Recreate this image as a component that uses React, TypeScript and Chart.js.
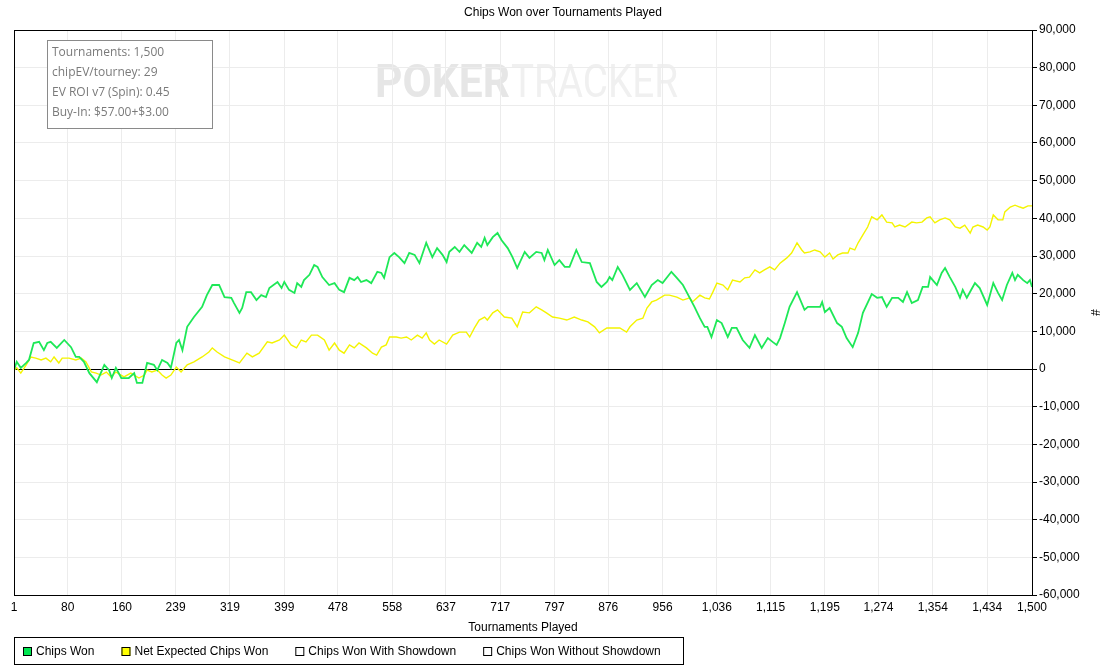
import React, { useEffect, useRef } from 'react';
import { Chart, registerables } from 'chart.js';

Chart.register(...registerables);

const chartTitle = 'Chips Won over Tournaments Played';
const xAxisTitle = 'Tournaments Played';
const yAxisTitle = '#';
const watermarkBold = 'POKER';
const watermarkLight = 'TRACKER';

const infoLines = [
  'Tournaments: 1,500',
  'chipEV/tourney: 29',
  'EV ROI v7 (Spin): 0.45',
  'Buy-In: $57.00+$3.00',
];

const seriesLabels = [
  'Chips Won',
  'Net Expected Chips Won',
  'Chips Won With Showdown',
  'Chips Won Without Showdown',
];
const seriesColors = ['#1ee857', '#f4f400', '#ffffff', '#ffffff'];
const legendFill = ['#00e650', '#ffff00', '#ffffff', '#ffffff'];

const xTicks = [1, 80, 160, 239, 319, 399, 478, 558, 637, 717, 797, 876, 956, 1036, 1115, 1195, 1274, 1354, 1434, 1500];
const yMin = -60000;
const yMax = 90000;
const yStep = 10000;

const chipsWonT = [
  1, 5, 11, 19, 23, 30, 38, 45, 50, 55,
  64, 75, 85, 92, 97, 104, 112, 123, 134, 141,
  145, 151, 159, 170, 178, 182, 190, 197, 207, 212,
  219, 227, 232, 240, 244, 249, 256, 266, 278, 285,
  293, 303, 311, 321, 325, 333, 337, 343, 350, 358,
  365, 372, 377, 389, 395, 399, 406, 414, 418, 424,
  428, 436, 443, 448, 455, 465, 473, 480, 487, 495,
  502, 507, 512, 520, 527, 536, 542, 546, 554, 561,
  568, 576, 583, 591, 598, 608, 617, 624, 632, 638,
  642, 650, 657, 664, 675, 683, 689, 694, 698, 706,
  713, 719, 728, 735, 742, 753, 760, 770, 778, 782,
  787, 797, 804, 812, 819, 829, 837, 849, 859, 866,
  874, 878, 882, 890, 897, 908, 918, 930, 940, 949,
  956, 969, 977, 986, 996, 1003, 1011, 1018, 1022, 1028,
  1036, 1043, 1052, 1058, 1065, 1074, 1084, 1092, 1102, 1111,
  1118, 1124, 1129, 1136, 1143, 1154, 1165, 1170, 1188, 1191,
  1195, 1202, 1213, 1220, 1227, 1236, 1244, 1251, 1264, 1272,
  1279, 1286, 1294, 1303, 1310, 1316, 1323, 1332, 1339, 1347,
  1350, 1360, 1367, 1372, 1379, 1387, 1394, 1398, 1404, 1416,
  1423, 1434, 1443, 1450, 1456, 1463, 1471, 1475, 1479, 1487,
  1493, 1497, 1500,
];
const chipsWonV = [
  -300, 1900, 300, 1600, 2400, 6900, 7200, 5000, 6900, 7200,
  5600, 7700, 5800, 3200, 3200, 1900, -1100, -3500, 1100, -300,
  -2400, 300, -2400, -2400, -1100, -3700, -3700, 1600, 1100, -300,
  2400, 1600, 300, 6900, 7700, 5000, 11200, 13800, 16500, 19600,
  22300, 22300, 19100, 18900, 17500, 14900, 16200, 20400, 20400, 18300,
  19600, 19100, 21500, 23100, 21500, 23100, 21000, 20200, 22800, 21800,
  23600, 25000, 27600, 27100, 24400, 22300, 22800, 21000, 20400, 24200,
  23600, 24400, 23100, 23600, 22800, 25800, 25500, 24200, 29700, 30800,
  29700, 28100, 30800, 30300, 28100, 33500, 29700, 32100, 30300, 28400,
  31100, 32400, 31100, 32900, 30800, 33500, 32400, 34800, 32900, 35000,
  36100, 34200, 32100, 29700, 26800, 31100, 29500, 31100, 30800, 28900,
  31600, 27600, 28900, 27100, 27100, 31600, 28400, 28100, 23100, 21800,
  23100, 24400, 23600, 27100, 25000, 21000, 22800, 19100, 22300, 23600,
  22800, 25800, 24200, 22300, 18900, 16500, 13500, 11200, 11200, 8500,
  13000, 12200, 8500, 10900, 10900, 7700, 5600, 9000, 5600, 8200,
  7200, 6400, 8200, 12200, 16500, 20400, 15700, 16500, 16500, 17800,
  15100, 16200, 12200, 11200, 8200, 5800, 9600, 14900, 19900, 18900,
  19100, 16500, 18900, 18900, 17800, 20400, 17500, 18300, 21800, 21800,
  24400, 22300, 25500, 26800, 24400, 21800, 18900, 21000, 18900, 22800,
  21500, 17000, 22800, 20200, 18300, 22300, 25500, 23600, 25000, 23600,
  22800, 23600, 21800,
];

const netEvT = [
  1, 5, 11, 19, 26, 33, 41, 48, 55, 60,
  67, 72, 82, 92, 100, 107, 115, 122, 129, 137,
  144, 151, 163, 173, 185, 193, 197, 204, 212, 219,
  225, 232, 240, 247, 256, 266, 278, 288, 293, 300,
  311, 322, 333, 344, 352, 362, 374, 381, 392, 399,
  409, 417, 424, 431, 439, 448, 458, 465, 473, 480,
  487, 495, 502, 509, 520, 529, 535, 542, 549, 554,
  564, 571, 579, 586, 595, 602, 608, 613, 620, 627,
  638, 647, 657, 667, 672, 679, 686, 694, 698, 706,
  713, 723, 734, 742, 750, 760, 770, 778, 785, 794,
  804, 815, 826, 837, 846, 856, 863, 874, 882, 893,
  903, 908, 918, 927, 933, 940, 947, 959, 966, 977,
  986, 996, 1000, 1011, 1018, 1025, 1030, 1036, 1045, 1052,
  1059, 1070, 1077, 1084, 1092, 1099, 1106, 1114, 1121, 1129,
  1139, 1146, 1154, 1161, 1165, 1173, 1180, 1188, 1195, 1202,
  1207, 1214, 1221, 1229, 1232, 1239, 1244, 1251, 1258, 1264,
  1272, 1279, 1286, 1294, 1298, 1305, 1313, 1323, 1330, 1338,
  1345, 1350, 1357, 1364, 1372, 1379, 1387, 1394, 1401, 1409,
  1413, 1420, 1428, 1434, 1438, 1443, 1450, 1457, 1460, 1468,
  1475, 1482, 1487, 1494, 1500,
];
const netEvV = [
  -300, 300, -1100, 1100, 3200, 2900, 2400, 2900, 1900, 3200,
  1600, 2900, 2900, 2400, 2900, 1900, -800, -1100, -1600, -800,
  -2100, -800, -2100, -1100, -2400, -1600, -300, -800, -300, -1600,
  -2400, -1600, 500, -800, 1100, 1900, 3200, 4500, 5600, 4500,
  3200, 2400, 1600, 4200, 3200, 4200, 7200, 6900, 7700, 9000,
  6400, 5600, 7700, 7200, 9000, 9000, 7700, 5000, 6900, 5000,
  4200, 6400, 5600, 6900, 5600, 4200, 3700, 5800, 6400, 8500,
  8500, 8200, 8500, 7700, 9000, 8200, 9600, 7700, 6600, 7700,
  6600, 9000, 9800, 9800, 8500, 10900, 13000, 13800, 13000, 14900,
  15700, 13800, 13500, 11200, 15100, 14900, 16500, 15700, 14900, 13800,
  13500, 13000, 13800, 13000, 12500, 11200, 9600, 10900, 10900, 10900,
  9800, 11200, 13000, 13500, 16200, 17800, 18300, 19600, 19600, 19100,
  18300, 18900, 17800, 19600, 18900, 18600, 20400, 22800, 22300, 21000,
  23600, 23100, 24200, 24400, 26300, 25500, 26300, 27100, 26300, 28100,
  29500, 30800, 33500, 31600, 30800, 31100, 31600, 31100, 29700, 30800,
  29200, 30300, 30800, 30800, 32100, 31600, 33500, 35600, 37700, 40400,
  39600, 40900, 39000, 38800, 37700, 38200, 37700, 39000, 38800, 39000,
  40100, 40400, 38800, 39600, 40100, 39600, 37700, 37400, 38200, 36100,
  37700, 38200, 37700, 36900, 37700, 40900, 39600, 39600, 41700, 43000,
  43500, 43000, 42700, 43300, 43300,
];

const FONT = '"Liberation Sans", Arial, sans-serif';
const INFO_FONT = '"Open Sans", "Noto Sans", sans-serif';

const fmt = (v: number) => Number(v).toLocaleString('en-US');

const decorPlugin = {
  id: 'decor',
  beforeDraw(chart: any) {
    const { ctx, width, height } = chart;
    ctx.save();
    ctx.fillStyle = '#ffffff';
    ctx.fillRect(0, 0, width, height);
    // watermark
    ctx.textBaseline = 'alphabetic';
    ctx.textAlign = 'left';
    ctx.font = `bold 46px Roboto, "Open Sans", sans-serif`;
    const wb = ctx.measureText(watermarkBold).width;
    ctx.save();
    ctx.translate(375, 97);
    ctx.scale(135 / wb, 1);
    ctx.fillStyle = '#e6e6e6';
    ctx.fillText(watermarkBold, 0, 0);
    ctx.restore();
    ctx.font = `46px Roboto, "Open Sans", sans-serif`;
    const wl = ctx.measureText(watermarkLight).width;
    ctx.save();
    ctx.translate(511, 97);
    ctx.scale(167 / wl, 1);
    ctx.fillStyle = '#f0f0f0';
    ctx.fillText(watermarkLight, 0, 0);
    ctx.restore();
    ctx.restore();
  },
  beforeDatasetsDraw(chart: any) {
    const { ctx } = chart;
    ctx.save();
    // info box
    ctx.fillStyle = '#ffffff';
    ctx.fillRect(47, 40, 166, 89);
    ctx.strokeStyle = '#8a8a8a';
    ctx.lineWidth = 1;
    ctx.strokeRect(47.5, 40.5, 165, 88);
    ctx.fillStyle = '#7a7a7a';
    ctx.font = `12px ${INFO_FONT}`;
    ctx.textBaseline = 'middle';
    ctx.textAlign = 'left';
    infoLines.forEach((line, i) => {
      ctx.fillText(line, 52, 53 + i * 20);
    });
    ctx.restore();
  },
  afterDraw(chart: any) {
    const { ctx, chartArea } = chart;
    ctx.save();
    // chart area border
    ctx.strokeStyle = '#000000';
    ctx.lineWidth = 1;
    ctx.strokeRect(
      Math.round(chartArea.left) + 0.5,
      Math.round(chartArea.top) + 0.5,
      Math.round(chartArea.right - chartArea.left),
      Math.round(chartArea.bottom - chartArea.top)
    );
    // title
    ctx.fillStyle = '#000000';
    ctx.font = `12px ${FONT}`;
    ctx.textAlign = 'center';
    ctx.textBaseline = 'middle';
    ctx.fillText(chartTitle, 563, 13);
    // legend
    ctx.textAlign = 'left';
    ctx.strokeRect(14.5, 637.5, 669, 27);
    let x = 23;
    chart.data.datasets.forEach((ds: any, i: number) => {
      ctx.fillStyle = legendFill[i];
      ctx.fillRect(x, 647, 9, 9);
      ctx.strokeStyle = '#000000';
      ctx.strokeRect(x + 0.5, 647.5, 8, 8);
      ctx.fillStyle = '#000000';
      ctx.fillText(ds.label, x + 13, 652);
      x += 13 + ctx.measureText(ds.label).width + 27;
    });
    ctx.restore();
  },
};

export default function App() {
  const canvasRef = useRef<HTMLCanvasElement | null>(null);

  useEffect(() => {
    document.body.style.margin = '0';
    const canvas = canvasRef.current;
    if (!canvas) return;
    const chart = new Chart(canvas, {
      type: 'line',
      data: {
        datasets: [
          {
            label: seriesLabels[0],
            data: chipsWonT.map((t, i) => ({ x: t, y: chipsWonV[i] })),
            borderColor: seriesColors[0],
            backgroundColor: seriesColors[0],
            borderWidth: 1.8,
            pointRadius: 0,
            tension: 0,
          },
          {
            label: seriesLabels[1],
            data: netEvT.map((t, i) => ({ x: t, y: netEvV[i] })),
            borderColor: seriesColors[1],
            backgroundColor: seriesColors[1],
            borderWidth: 1.4,
            pointRadius: 0,
            tension: 0,
          },
          {
            label: seriesLabels[2],
            data: [],
            borderColor: seriesColors[2],
            backgroundColor: seriesColors[2],
            pointRadius: 0,
          },
          {
            label: seriesLabels[3],
            data: [],
            borderColor: seriesColors[3],
            backgroundColor: seriesColors[3],
            pointRadius: 0,
          },
        ],
      },
      options: {
        responsive: false,
        animation: false,
        devicePixelRatio: 1,
        layout: { padding: { left: 14, top: 30, right: 0, bottom: 33 } },
        plugins: {
          legend: { display: false },
          title: { display: false },
          tooltip: { enabled: false },
        },
        scales: {
          x: {
            type: 'linear',
            min: 1,
            max: 1500,
            afterBuildTicks: (s: any) => {
              s.ticks = xTicks.map((v) => ({ value: v }));
            },
            afterFit: (s: any) => {
              s.height = 40;
            },
            ticks: {
              autoSkip: false,
              maxRotation: 0,
              minRotation: 0,
              padding: 5,
              color: '#000000',
              font: { family: FONT, size: 12 },
              callback: (v: any) => fmt(v),
            },
            grid: { color: '#ececec', drawTicks: false },
            border: { color: '#000000' },
            title: {
              display: true,
              text: xAxisTitle,
              color: '#000000',
              font: { family: FONT, size: 12 },
              padding: { top: 0, bottom: 0 },
            },
          },
          y: {
            type: 'linear',
            position: 'right',
            min: yMin,
            max: yMax,
            afterFit: (s: any) => {
              s.width = 70;
            },
            ticks: {
              stepSize: yStep,
              padding: 2,
              color: '#000000',
              font: { family: FONT, size: 12 },
              callback: (v: any) => fmt(v),
            },
            grid: {
              color: (c: any) => (c.tick && c.tick.value === 0 ? '#000000' : '#ececec'),
              tickColor: '#000000',
              tickLength: 5,
            },
            border: { color: '#000000' },
            title: {
              display: true,
              text: yAxisTitle,
              color: '#000000',
              font: { family: FONT, size: 12 },
              padding: { top: 0, bottom: 0 },
            },
          },
        },
      },
      plugins: [decorPlugin],
    } as any);
    return () => chart.destroy();
  }, []);

  return (
    <div style={{ width: 1102, height: 668, position: 'relative' }}>
      <canvas ref={canvasRef} width={1102} height={668} style={{ display: 'block' }} />
    </div>
  );
}
